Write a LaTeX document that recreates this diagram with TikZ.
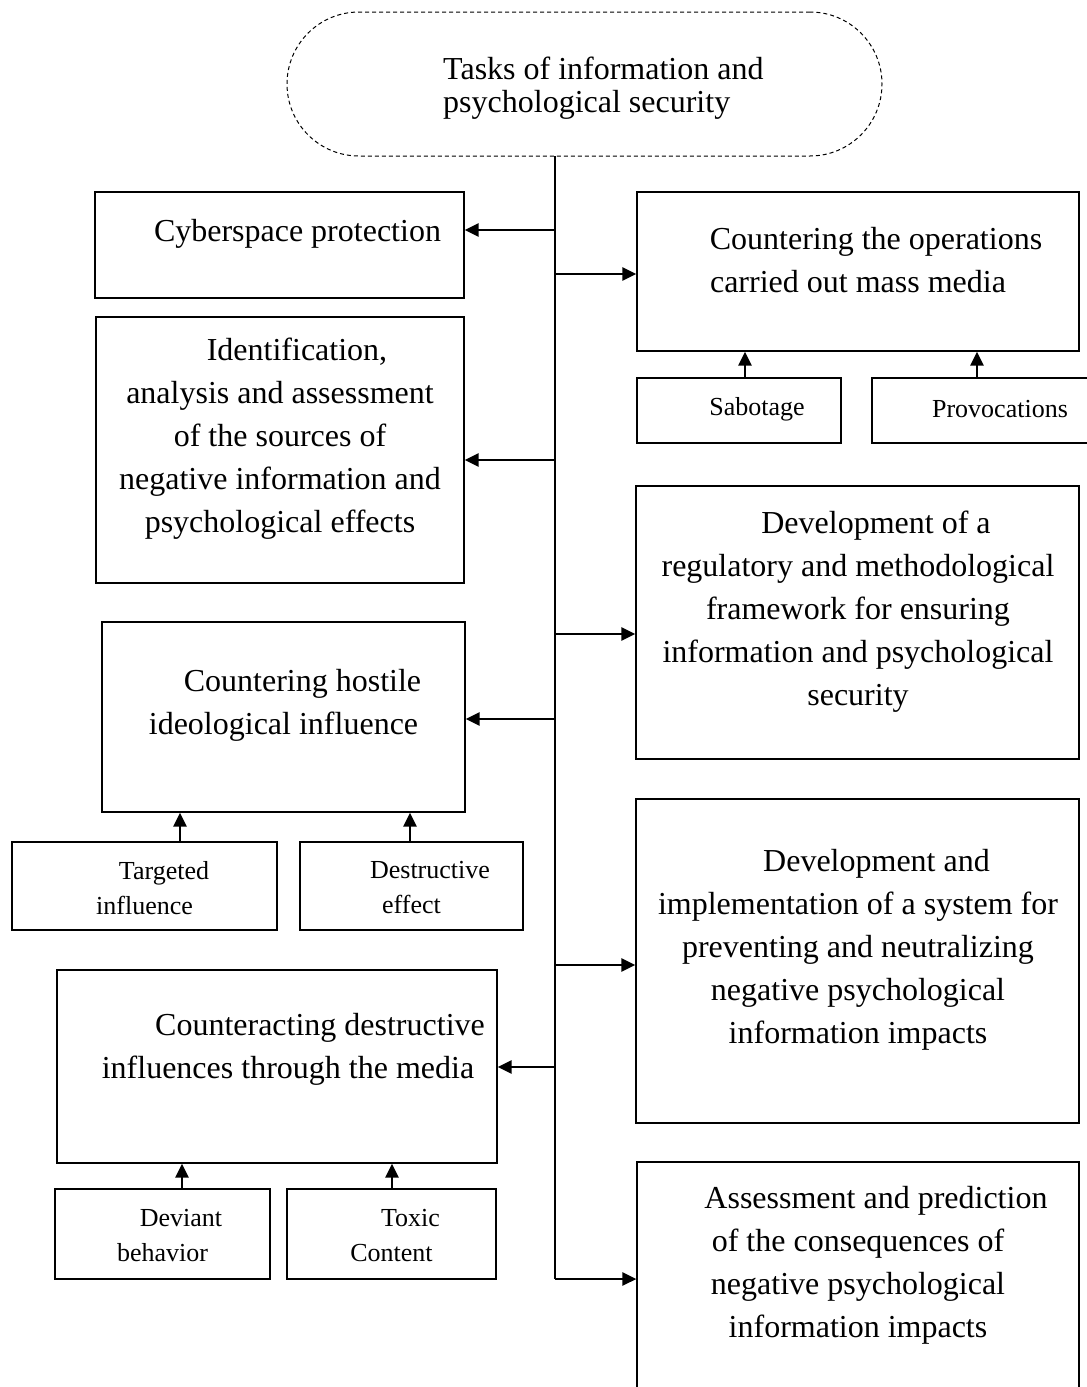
\documentclass[tikz,border=0pt]{standalone}
\usepackage{fontspec}
\setmainfont{Liberation Serif}
\usetikzlibrary{arrows.meta,calc}
\begin{document}
\begin{tikzpicture}[x=1pt,y=-1pt,
  box/.style={draw, line width=1.2pt, inner sep=0pt, rectangle},
  big/.style={font=\fontsize{32}{43}\selectfont, align=center, inner sep=0pt},
  small/.style={font=\fontsize{26}{35}\selectfont, align=center, inner sep=0pt},
  arr/.style={line width=2.7pt, -{Triangle[length=14pt,width=13pt]}},
  trunkline/.style={line width=1.4pt}]
\useasboundingbox (0,0) rectangle (1087,1387);
\fill[white] (0,0) rectangle (1087,1387);
\clip (0,0) rectangle (1087,1387);

% title
\node[draw, line width=1pt, dash pattern=on 4pt off 3pt, rounded corners=72pt,
      minimum width=595pt, minimum height=144pt, inner sep=0pt] (title) at (584.5,84) {};
\node[font=\fontsize{32}{33}\selectfont, align=left, anchor=west, inner sep=0pt] (titletxt) at (443,88.5)
  {Tasks of information and\\psychological security};

% left boxes
\node[box, minimum width=369pt, minimum height=106pt] (cyber) at (279.5,245) {};
\node[big] (cybertxt) at (279.5,234) {\hspace*{36pt}Cyberspace protection};

\node[box, minimum width=368pt, minimum height=266pt] (ident) at (280,450) {};
\node[big] (identtxt) at (280,439) {\hspace*{34pt}Identification,\\analysis and assessment\\of the sources of\\negative information and\\psychological effects};

\node[box, minimum width=363pt, minimum height=190pt] (host) at (283.5,717) {};
\node[big] (hosttxt) at (283.5,705) {\hspace*{38pt}Countering hostile\\ideological influence};

\node[box, minimum width=265pt, minimum height=88pt] (targ) at (144.5,886) {};
\node[small] (targtxt) at (144.5,888) {\hspace*{39pt}Targeted\\influence};

\node[box, minimum width=223pt, minimum height=88pt] (destr) at (411.5,886) {};
\node[small] (destrtxt) at (411.5,888) {\hspace*{37pt}Destructive\\effect};

\node[box, minimum width=440pt, minimum height=193pt] (counter) at (277,1066.5) {};
\node[big] (countertxt) at (288,1049) {\hspace*{64pt}Counteracting destructive\\influences through the media};

\node[box, minimum width=215pt, minimum height=90pt] (dev) at (162.5,1234) {};
\node[small] (devtxt) at (162.5,1235.5) {\hspace*{37pt}Deviant\\behavior};

\node[box, minimum width=209pt, minimum height=90pt] (toxic) at (391.5,1234) {};
\node[small] (toxictxt) at (391.5,1235.5) {\hspace*{38pt}Toxic\\Content};

% right boxes
\node[box, minimum width=442pt, minimum height=159pt] (ops) at (858,271.5) {};
\node[big] (opstxt) at (858,260.5) {\hspace*{36pt}Countering the operations\\carried out mass media};

\node[box, minimum width=204pt, minimum height=65pt] (sab) at (739,410.5) {};
\node[small] (sabtxt) at (739,409) {\hspace*{36pt}Sabotage};

\node[box, minimum width=228pt, minimum height=65pt] (prov) at (986,410.5) {};
\node[small] (provtxt) at (1000,409) {Provocations};

\node[box, minimum width=443pt, minimum height=273pt] (reg) at (857.5,622.5) {};
\node[big] (regtxt) at (858,612) {\hspace*{36pt}Development of a\\regulatory and methodological\\framework for ensuring\\information and psychological\\security};

\node[box, minimum width=443pt, minimum height=324pt] (impl) at (857.5,961) {};
\node[big] (impltxt) at (858,949.5) {\hspace*{37pt}Development and\\implementation of a system for\\preventing and neutralizing\\negative psychological\\information impacts};

\node[box, minimum width=442pt, minimum height=238pt] (assess) at (858,1281) {};
\node[big] (assesstxt) at (858,1265) {\hspace*{36pt}Assessment and prediction\\of the consequences of\\negative psychological\\information impacts};

% trunk
\coordinate (ttop) at (555,156);
\coordinate (tbot) at (555,1279);
\draw[trunkline] (ttop) -- (tbot);

\coordinate (j1) at (555,230);
\coordinate (j2) at (555,274);
\coordinate (j3) at (555,460);
\coordinate (j4) at (555,634);
\coordinate (j5) at (555,719);
\coordinate (j6) at (555,965);
\coordinate (j7) at (555,1067);
\draw[arr] (j1) -- (j1 -| cyber.east);
\draw[arr] (j2) -- (j2 -| ops.west);
\draw[arr] (j3) -- (j3 -| ident.east);
\draw[arr] (j4) -- (j4 -| reg.west);
\draw[arr] (j5) -- (j5 -| host.east);
\draw[arr] (j6) -- (j6 -| impl.west);
\draw[arr] (j7) -- (j7 -| counter.east);
\draw[arr] (tbot) -- (tbot -| assess.west);

% upward arrows
\coordinate (u1) at (745,0);
\coordinate (u2) at (977,0);
\coordinate (u3) at (180,0);
\coordinate (u4) at (410,0);
\coordinate (u5) at (182,0);
\coordinate (u6) at (392,0);
\draw[arr] (u1 |- sab.north) -- (u1 |- ops.south);
\draw[arr] (u2 |- prov.north) -- (u2 |- ops.south);
\draw[arr] (u3 |- targ.north) -- (u3 |- host.south);
\draw[arr] (u4 |- destr.north) -- (u4 |- host.south);
\draw[arr] (u5 |- dev.north) -- (u5 |- counter.south);
\draw[arr] (u6 |- toxic.north) -- (u6 |- counter.south);
\end{tikzpicture}
\end{document}
